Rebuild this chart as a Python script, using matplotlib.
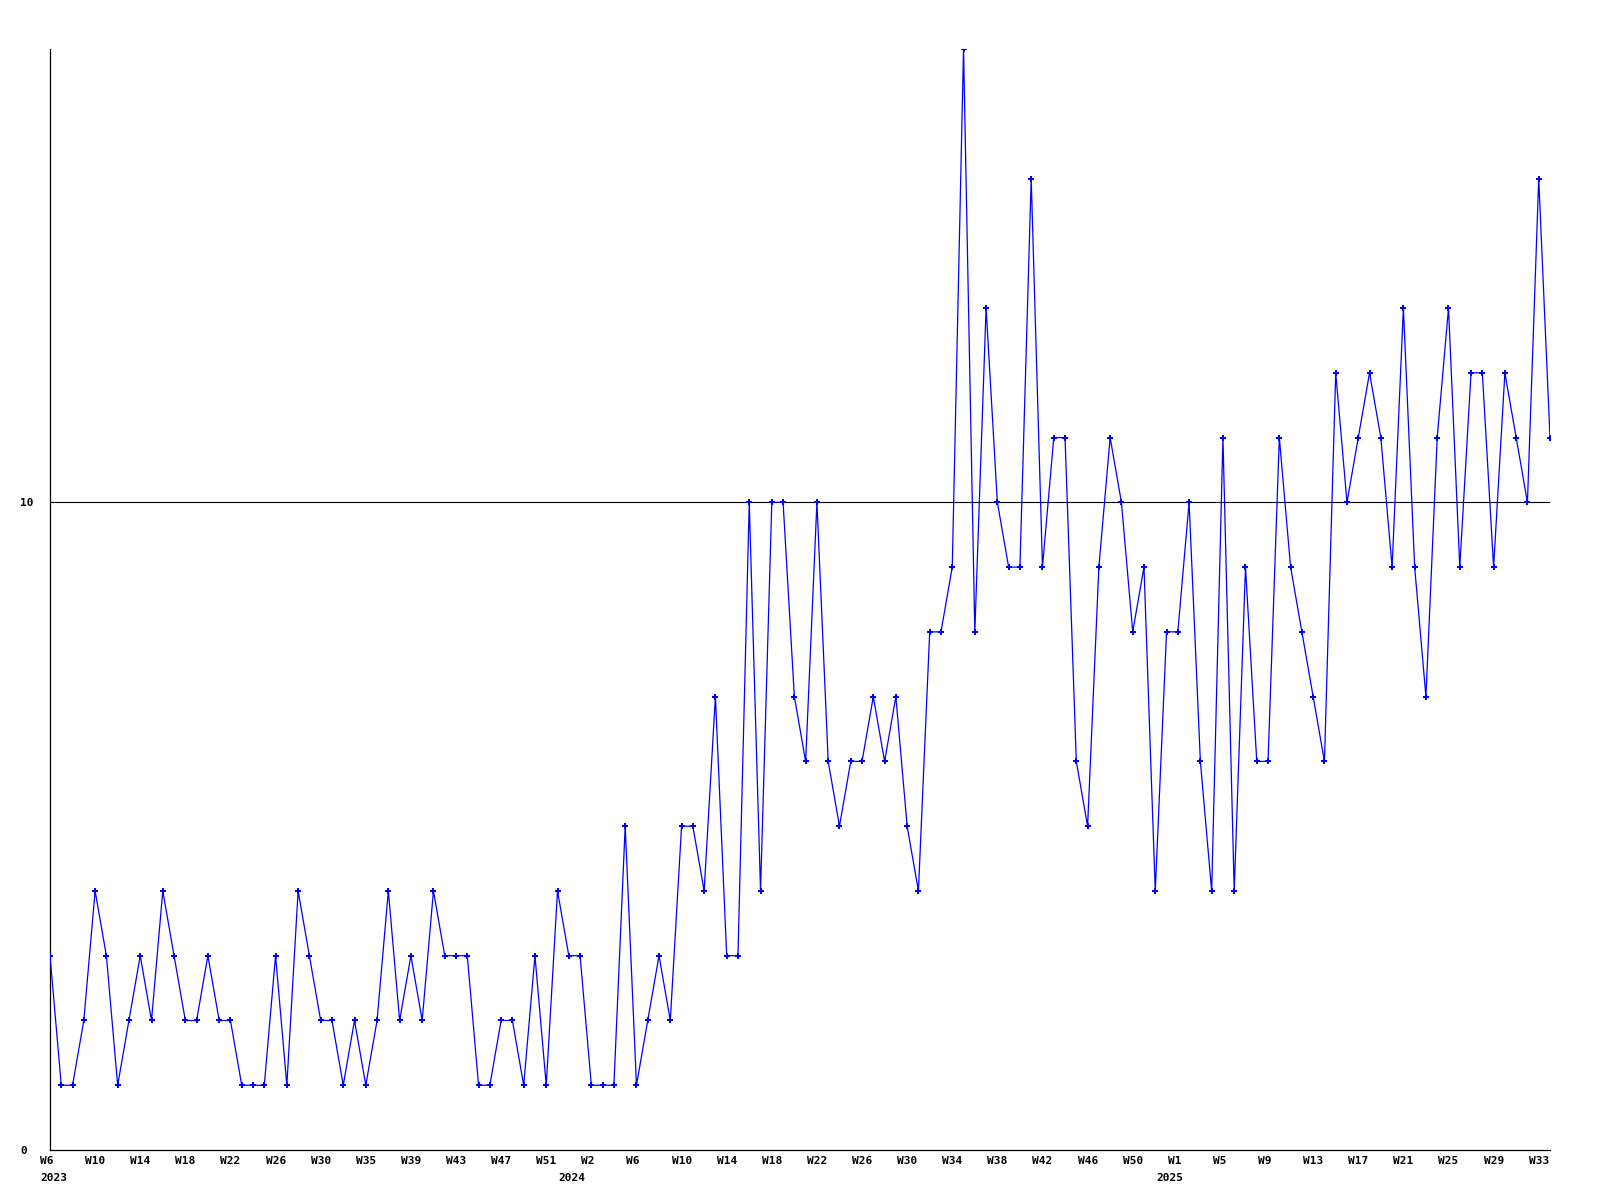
import matplotlib
matplotlib.use("Agg")
import matplotlib.pyplot as plt
import matplotlib.transforms as mtransforms

# weekly counts, one value per plotted week (index based)
counts_2023 = [3, 1, 1, 2, 4, 3, 1, 2, 3, 2, 4, 3, 2, 2, 3, 2, 2, 1, 1, 1,
               3, 1, 4, 3, 2, 2, 1, 2, 1, 2, 4, 2, 3, 2, 4, 3, 3, 3, 1, 1,
               2, 2, 1, 3, 1, 4]
counts_2024 = [3, 3, 1, 1, 1, 5, 1, 2, 3, 2, 5, 5, 4, 7, 3, 3, 10, 4, 10, 10,
               7, 6, 10, 6, 5, 6, 6, 7, 6, 7, 5, 4, 8, 8, 9, 17, 8, 13, 10, 9,
               9, 15, 9, 11, 11, 6, 5, 9, 11, 10, 8, 9, 4, 8]
counts_2025 = [8, 10, 6, 4, 11, 4, 9, 6, 6, 11, 9, 8, 7, 6, 12, 10, 11, 12, 11, 9,
               13, 9, 7, 11, 13, 9, 12, 12, 9, 12, 11, 10, 15, 11]
counts = counts_2023 + counts_2024 + counts_2025

# week labels shown every 4th point
week_labels = ["W6", "W10", "W14", "W18", "W22", "W26", "W30", "W35", "W39",
               "W43", "W47", "W51", "W2", "W6", "W10", "W14", "W18", "W22",
               "W26", "W30", "W34", "W38", "W42", "W46", "W50", "W1", "W5",
               "W9", "W13", "W17", "W21", "W25", "W29", "W33"]
year_labels = ["2023", "2024", "2025"]
year_pos = [0, 46, 99]

x = list(range(len(counts)))

fig = plt.figure(figsize=(16, 12), dpi=100)
ax = fig.add_axes([50 / 1600, 50 / 1200, 1500 / 1600, 1101 / 1200])

ax.plot(x, counts, color="#0000ff", linewidth=0.9, marker="P",
        markersize=4.2, markeredgewidth=0, zorder=3)
ax.axhline(10, color="black", linewidth=0.8, zorder=2)

ax.set_xlim(0, len(counts) - 1)
ax.set_ylim(0, 17)

for s in ["top", "right"]:
    ax.spines[s].set_visible(False)
for s in ["left", "bottom"]:
    ax.spines[s].set_linewidth(0.9)
    ax.spines[s].set_color("black")

font = dict(family="DejaVu Sans Mono", weight="bold", size=8)

# y labels are left aligned at the page edge
ax.set_yticks([0, 10])
ax.set_yticklabels(["0", "10"], fontdict=font, ha="left")
ax.tick_params(axis="y", length=0, pad=21.6)

# x labels: left edge sits a few pixels left of the point
ax.set_xticks(x[::4])
ax.set_xticklabels(week_labels, fontdict=font, ha="left")
ax.tick_params(axis="x", length=0, pad=4)
shift = mtransforms.ScaledTranslation(-10 / 100, 0, fig.dpi_scale_trans)
for lab in ax.get_xticklabels():
    lab.set_transform(lab.get_transform() + shift)

trans = mtransforms.blended_transform_factory(ax.transData, ax.transAxes) + shift
for yl, xp in zip(year_labels, year_pos):
    ax.text(xp, -0.021, yl, transform=trans, ha="left", va="top", **font)

fig.savefig("out.png", dpi=100, facecolor="white")
